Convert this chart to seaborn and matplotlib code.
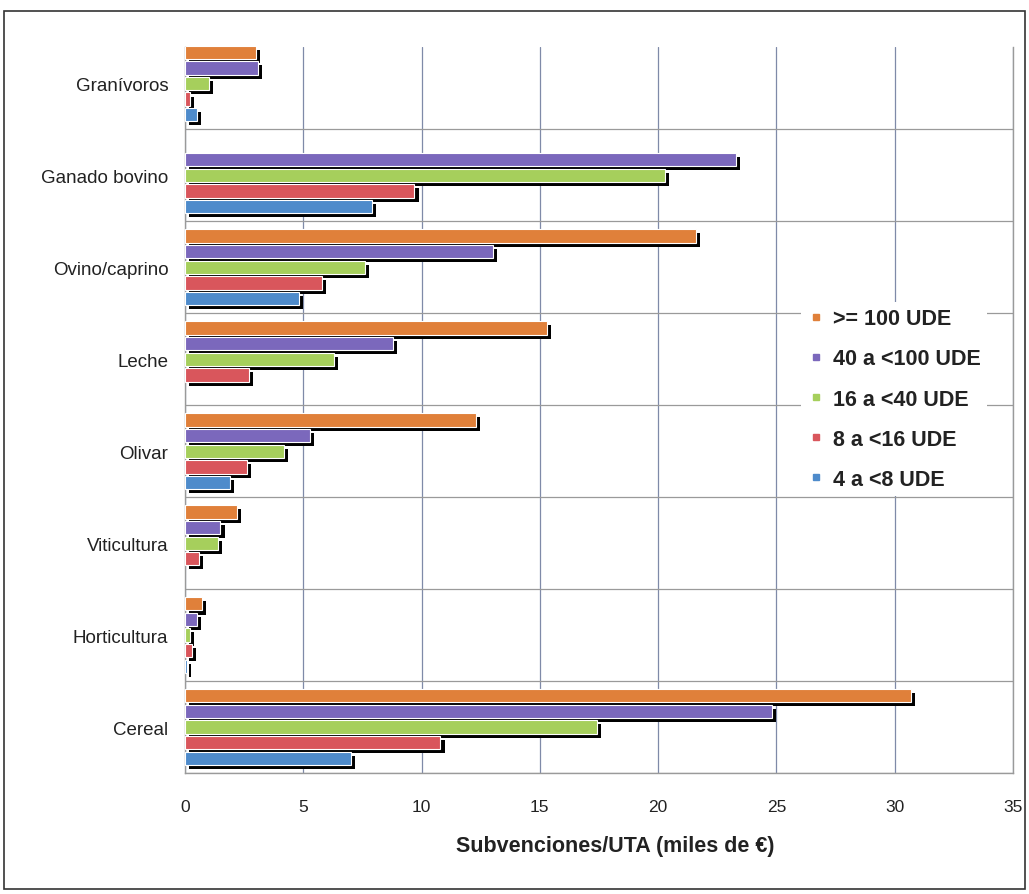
import numpy as np
import pandas as pd
import matplotlib
matplotlib.use("Agg")
import matplotlib.pyplot as plt
import matplotlib.patheffects as pe
from matplotlib.lines import Line2D
from matplotlib.patches import Rectangle
import seaborn as sns

# Datos (miles de euros por UTA)
categorias = ["Granívoros", "Ganado bovino", "Ovino/caprino", "Leche",
              "Olivar", "Viticultura", "Horticultura", "Cereal"]
estratos = [">= 100 UDE", "40 a <100 UDE", "16 a <40 UDE", "8 a <16 UDE", "4 a <8 UDE"]

ude_100 = [3.0, np.nan, 21.6, 15.3, 12.3, 2.2, 0.7, 30.7]
ude_40 = [3.1, 23.3, 13.0, 8.8, 5.3, 1.5, 0.5, 24.8]
ude_16 = [1.0, 20.3, 7.6, 6.3, 4.2, 1.4, 0.2, 17.4]
ude_8 = [0.2, 9.7, 5.8, 2.7, 2.6, 0.6, 0.3, 10.8]
ude_4 = [0.5, 7.9, 4.8, np.nan, 1.9, np.nan, 0.1, 7.0]

colores = ["#E0803A", "#7B68BC", "#A6CF5C", "#D9565C", "#4E8BCB"]

series = [ude_100, ude_40, ude_16, ude_8, ude_4]
filas = []
for est, vals in zip(estratos, series):
    for cat, v in zip(categorias, vals):
        filas.append({"categoria": cat, "estrato": est, "valor": v})
df = pd.DataFrame(filas).dropna()

sns.set_style("white")
plt.rcParams["font.family"] = ["Liberation Sans", "DejaVu Sans"]

fig = plt.figure(figsize=(10.29, 8.95), dpi=100)
ax = fig.add_axes([185 / 1029, 1 - 774 / 895, (1013 - 185) / 1029, (774 - 48) / 895])

sns.barplot(data=df, x="valor", y="categoria", hue="estrato",
            order=categorias, hue_order=estratos, palette=colores, saturation=1,
            orient="h", width=0.85, gap=0.15, ax=ax, legend=False,
            edgecolor="white", linewidth=0.8, zorder=3)

for bar in ax.patches:
    bar.set_path_effects([pe.SimplePatchShadow(offset=(2.9, -2.9), shadow_rgbFace="black", alpha=1.0),
                          pe.Normal()])

ax.set_xticks(np.arange(0, 36, 5))
ax.set_yticks(np.arange(-0.5, 8, 1), minor=True)
ax.set_xlim(0, 35)
ax.set_ylim(7.5, -0.397)
ax.grid(axis="x", which="major", color="#7F8AA8", linewidth=0.9, zorder=0)
ax.grid(axis="y", which="minor", color="#9A9A9A", linewidth=0.9, zorder=0)
ax.set_axisbelow(True)
ax.tick_params(axis="both", which="both", length=0, colors="#222222")
ax.tick_params(axis="x", labelsize=12.5, pad=19)
ax.tick_params(axis="y", labelsize=13.5, pad=12)

for lado in ["left", "bottom", "right"]:
    ax.spines[lado].set_color("#9A9A9A")
    ax.spines[lado].set_linewidth(1.0)
ax.spines["top"].set_visible(False)

ax.set_ylabel("")
ax.set_xlabel("Subvenciones/UTA (miles de €)", fontsize=15.5, fontweight="bold",
              color="#222222", labelpad=15)
ax.xaxis.label.set_x(0.52)

handles = [Line2D([0], [0], marker="s", linestyle="", markersize=5,
                  markerfacecolor=c, markeredgecolor=c) for c in colores]
leg = ax.legend(handles, estratos, loc="upper left",
                bbox_to_anchor=(790 / 1029, 1 - 292 / 895), bbox_transform=fig.transFigure,
                frameon=True, facecolor="white", edgecolor="none", framealpha=1,
                prop={"weight": "bold", "size": 15.5}, labelspacing=0.89,
                handletextpad=0.4, borderpad=0.3, handlelength=0.8)
for t in leg.get_texts():
    t.set_color("#222222")

# marco exterior
fig.patches.append(Rectangle((4 / 1029, 5 / 895), 1021 / 1029, 878 / 895,
                             transform=fig.transFigure, fill=False,
                             edgecolor="#333333", linewidth=1.2))

fig.savefig("out.png", dpi=100)
